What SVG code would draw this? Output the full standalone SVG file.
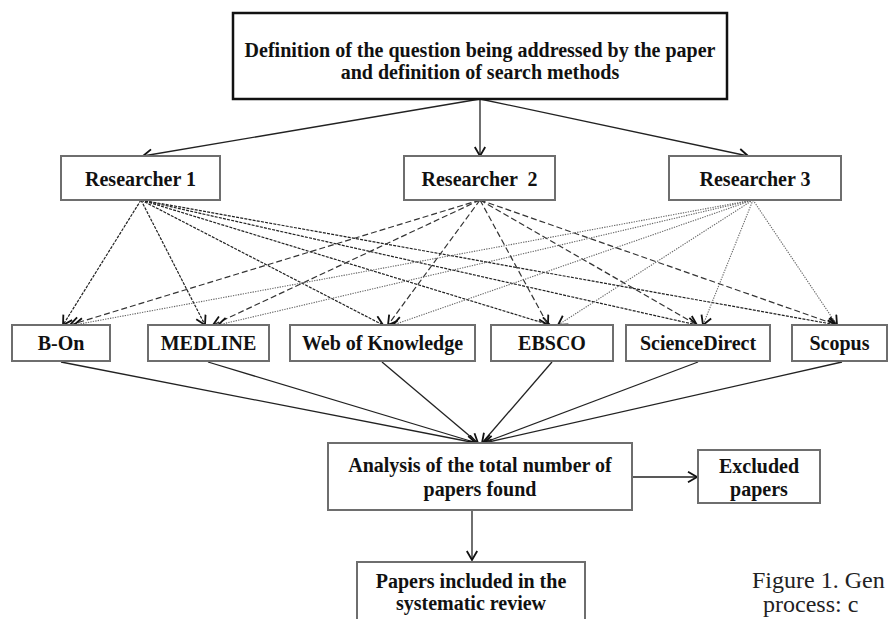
<svg xmlns="http://www.w3.org/2000/svg" width="888" height="619" viewBox="0 0 888 619">
<style>
.box{fill:#fff;stroke:#6e6e6e;stroke-width:2}
.top{fill:#fff;stroke:#111;stroke-width:2.5}
.t{font-family:"Liberation Serif","Times New Roman",serif;font-weight:bold;font-size:20px;fill:#111;text-anchor:middle}
.cap{font-family:"Liberation Serif","Times New Roman",serif;font-size:24px;fill:#222}
.solid{stroke:#222;stroke-width:1.3;fill:none;marker-end:url(#ah)}
.r1{stroke:#222;stroke-width:1.2;stroke-dasharray:3 1.2;fill:none;marker-end:url(#ah)}
.r2{stroke:#333;stroke-width:1.2;stroke-dasharray:6 3;fill:none;marker-end:url(#ah)}
.r3{stroke:#666;stroke-width:1.1;stroke-dasharray:1.3 1.2;fill:none;marker-end:url(#ah)}
</style>
<defs>
<marker id="ah" markerUnits="userSpaceOnUse" markerWidth="13" markerHeight="13" refX="10" refY="6" orient="auto" viewBox="0 0 13 13">
<path d="M1,0.8 L10,6 L1,11.2" fill="none" stroke="#111" stroke-width="1.8" stroke-dasharray="none"/>
</marker>
</defs>

<g id="connectors">
<line class="solid" x1="480" y1="99" x2="143" y2="156"/>
<line class="solid" x1="480" y1="99" x2="480" y2="156"/>
<line class="solid" x1="480" y1="99" x2="748" y2="156"/>

<line class="r1" x1="141" y1="200" x2="63" y2="325"/>
<line class="r1" x1="141" y1="200" x2="205" y2="325"/>
<line class="r1" x1="141" y1="200" x2="383" y2="325"/>
<line class="r1" x1="141" y1="200" x2="550" y2="325"/>
<line class="r1" x1="141" y1="200" x2="697" y2="325"/>
<line class="r1" x1="141" y1="200" x2="837" y2="325"/>

<line class="r2" x1="480" y1="200" x2="70" y2="325"/>
<line class="r2" x1="480" y1="200" x2="213" y2="325"/>
<line class="r2" x1="480" y1="200" x2="388" y2="325"/>
<line class="r2" x1="480" y1="200" x2="548" y2="325"/>
<line class="r2" x1="480" y1="200" x2="697" y2="325"/>
<line class="r2" x1="480" y1="200" x2="837" y2="325"/>

<line class="r3" x1="753" y1="200" x2="74" y2="325"/>
<line class="r3" x1="753" y1="200" x2="218" y2="325"/>
<line class="r3" x1="753" y1="200" x2="393" y2="325"/>
<line class="r3" x1="753" y1="200" x2="558" y2="325"/>
<line class="r3" x1="753" y1="200" x2="703" y2="325"/>
<line class="r3" x1="753" y1="200" x2="837" y2="325"/>

<line class="solid" x1="61" y1="362" x2="476" y2="443"/>
<line class="solid" x1="208" y1="362" x2="477" y2="443"/>
<line class="solid" x1="382" y1="362" x2="478" y2="443"/>
<line class="solid" x1="552" y1="362" x2="482" y2="443"/>
<line class="solid" x1="698" y1="362" x2="483" y2="443"/>
<line class="solid" x1="842" y1="362" x2="484" y2="443"/>

<line class="solid" x1="632" y1="477" x2="697" y2="477"/>
<line class="solid" x1="472" y1="511" x2="472" y2="560"/>
</g>

<g id="question">
<rect class="top" x="233" y="13" width="494" height="86"/>
<text class="t" x="480" y="57">Definition of the question being addressed by the paper</text>
<text class="t" x="480" y="79">and definition of search methods</text>
</g>

<g id="researcher1">
<rect class="box" x="61" y="156" width="159" height="44"/>
<text class="t" x="140.5" y="186">Researcher 1</text>
</g>
<g id="researcher2">
<rect class="box" x="404" y="156" width="151" height="44"/>
<text class="t" x="479.5" y="186" xml:space="preserve">Researcher  2</text>
</g>
<g id="researcher3">
<rect class="box" x="669" y="156" width="172" height="44"/>
<text class="t" x="755" y="186">Researcher 3</text>
</g>

<g id="bon">
<rect class="box" x="12" y="325" width="98" height="36"/>
<text class="t" x="61" y="350">B-On</text>
</g>
<g id="medline">
<rect class="box" x="148" y="325" width="121" height="36"/>
<text class="t" x="208.5" y="350">MEDLINE</text>
</g>
<g id="wok">
<rect class="box" x="290" y="325" width="185" height="36"/>
<text class="t" x="382.5" y="350">Web of Knowledge</text>
</g>
<g id="ebsco">
<rect class="box" x="491" y="325" width="122" height="36"/>
<text class="t" x="552" y="350">EBSCO</text>
</g>
<g id="sciencedirect">
<rect class="box" x="626" y="325" width="144" height="36"/>
<text class="t" x="698" y="350">ScienceDirect</text>
</g>
<g id="scopus">
<rect class="box" x="792" y="325" width="95" height="36"/>
<text class="t" x="839.5" y="350">Scopus</text>
</g>

<g id="analysis">
<rect class="box" x="328" y="443" width="304" height="67"/>
<text class="t" x="480" y="472">Analysis of the total number of</text>
<text class="t" x="480" y="496">papers found</text>
</g>
<g id="excluded">
<rect class="box" x="698" y="450" width="122" height="53"/>
<text class="t" x="759" y="473">Excluded</text>
<text class="t" x="759" y="496">papers</text>
</g>
<g id="included">
<rect class="box" x="357" y="562" width="228" height="70"/>
<text class="t" x="471" y="588">Papers included in the</text>
<text class="t" x="471" y="610">systematic review</text>
</g>

<g id="caption">
<text class="cap" x="752" y="588">Figure 1. Gen</text>
<text class="cap" x="763" y="612">process: c</text>
</g>
</svg>
